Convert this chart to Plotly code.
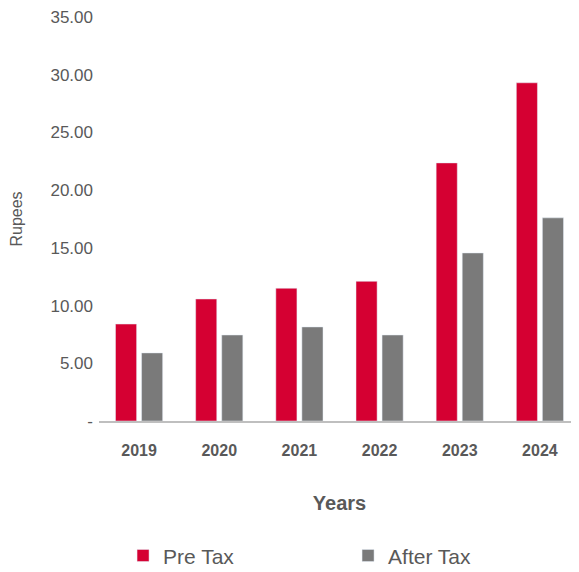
import plotly.graph_objects as go

years = ["2019", "2020", "2021", "2022", "2023", "2024"]
pre_tax = [8.40, 10.57, 11.50, 12.10, 22.36, 29.30]
after_tax = [5.90, 7.45, 8.15, 7.45, 14.56, 17.60]
y_ticks = [0, 5, 10, 15, 20, 25, 30, 35]
y_tick_text = ["-"] + [f"{v:.2f}" for v in y_ticks[1:]]

fig = go.Figure()
fig.add_trace(go.Bar(x=years, y=pre_tax, name="Pre Tax", marker_color="#d50032"))
fig.add_trace(go.Bar(x=years, y=after_tax, name="After Tax", marker_color="#7a7a7a"))

# page body adds 8px offset, margins compensate
fig.update_layout(
    width=579,
    height=572,
    paper_bgcolor="white",
    plot_bgcolor="white",
    font=dict(family="Liberation Sans, Arial, sans-serif", color="#595959", size=17),
    margin=dict(l=91, r=7, t=9, b=159, autoexpand=False),
    barmode="group",
    bargap=0.35,
    bargroupgap=0.19,
    xaxis=dict(
        automargin=False,
        showgrid=False,
        showline=True,
        linecolor="#bfbfbf",
        linewidth=2,
        ticks="",
        ticklabelstandoff=14,
        tickfont=dict(size=16, color="#595959"),
        tickprefix="<b>",
        ticksuffix="</b>",
        title=dict(text="<b>Years</b>", font=dict(size=20, color="#595959"), standoff=38),
    ),
    yaxis=dict(
        automargin=False,
        range=[0, 35],
        tickvals=y_ticks,
        ticktext=y_tick_text,
        ticklabeloverflow="allow",
        showgrid=False,
        zeroline=False,
        ticks="",
        ticklabelstandoff=5,
        tickfont=dict(size=17, color="#595959"),
        title=dict(text="Rupees", font=dict(size=16, color="#595959"), standoff=24),
    ),
    legend=dict(
        orientation="h",
        x=0.05,
        xanchor="left",
        y=-0.283,
        yanchor="top",
        entrywidth=180,
        font=dict(size=21, color="#595959"),
    ),
)

fig.write_html("out.html")
